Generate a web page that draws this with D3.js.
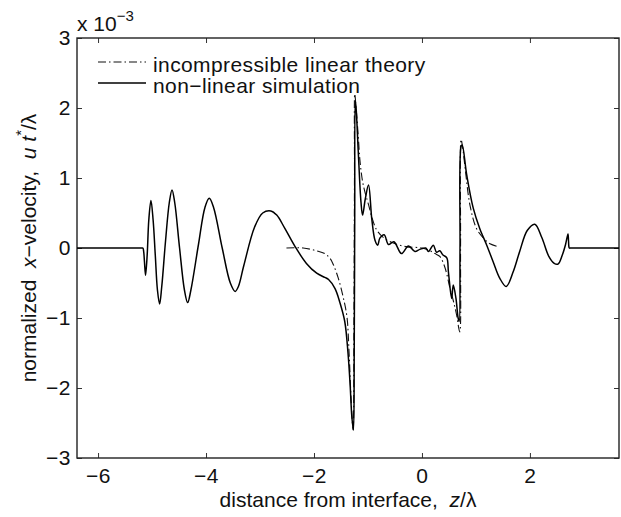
<!DOCTYPE html>
<html>
<head>
<meta charset="utf-8">
<script src="https://cdn.jsdelivr.net/npm/d3@7"></script>
<style>
  body { margin: 0; background: #fff; }
  svg text { font-family: "Liberation Sans", Arial, Helvetica, sans-serif; fill: #111; }
</style>
</head>
<body>
<div id="main"></div>
<script>

// non-linear simulation (x in units of z/lambda, y in units of 1e-3)
const simX = [-6.39, -5.5, -5.2, -5.17, -5.155, -5.14, -5.12, -5.09, -5.06, -5.02, -4.98, -4.94, -4.90, -4.86, -4.82, -4.75, -4.68, -4.63, -4.58,
  -4.49, -4.40, -4.34, -4.28, -4.14, -4.02, -3.94, -3.86, -3.70, -3.55, -3.46, -3.40, -3.30, -3.10, -2.95, -2.80, -2.69,
  -2.54, -2.35, -2.14, -1.95, -1.80, -1.73, -1.61, -1.52, -1.43, -1.37, -1.33, -1.30, -1.27, -1.255, -1.245, -1.235, -1.22,
  -1.18, -1.13, -1.10, -1.05, -0.99, -0.93, -0.87, -0.82, -0.78, -0.70, -0.62, -0.52, -0.38, -0.25, -0.13, -0.04, 0.07,
  0.12, 0.21, 0.27, 0.33, 0.39, 0.46, 0.49, 0.55, 0.58, 0.63, 0.67, 0.69, 0.705, 0.725, 0.745, 0.83, 0.95, 1.07, 1.20,
  1.32, 1.44, 1.56, 1.69, 1.81, 1.95, 2.09, 2.22, 2.35, 2.45, 2.52, 2.60, 2.66, 2.705, 2.715, 2.73, 2.76, 3.0, 3.65];
const simY = [0, 0, 0, 0, -0.05, -0.2, -0.39, -0.1, 0.4, 0.68, 0.4, -0.1, -0.6, -0.80, -0.55, 0.1, 0.65, 0.83, 0.65,
  0.0, -0.6, -0.78, -0.6, 0.05, 0.58, 0.71, 0.58, 0.0, -0.5, -0.62, -0.55, -0.25, 0.3, 0.5, 0.53, 0.47,
  0.28, 0.02, -0.22, -0.36, -0.42, -0.45, -0.58, -0.78, -1.05, -1.5, -1.96, -2.4, -2.6, -1.5, 0.5, 2.1, 2.0,
  1.38, 0.66, 0.47, 0.7, 0.9, 0.42, 0.11, 0.04, 0.14, 0.19, 0.05, 0.09, -0.08, 0.03, -0.05, -0.02, 0.0,
  -0.05, 0.04, -0.06, -0.04, -0.1, -0.14, -0.34, -0.72, -0.53, -0.72, -1.0, -1.05, 0.0, 1.45, 1.47, 1.04, 0.57, 0.28, 0.04,
  -0.2, -0.43, -0.55, -0.34, -0.05, 0.25, 0.34, 0.15, -0.12, -0.22, -0.23, -0.1, 0.05, 0.2, 0.1, 0, 0, 0, 0];

// incompressible linear theory
const linX = [-2.51, -2.20, -1.95, -1.80, -1.70, -1.64, -1.55, -1.46, -1.39, -1.35, -1.31, -1.275, -1.26, -1.25, -1.245,
  -1.22, -1.18, -1.15, -1.10, -1.05, -0.99, -0.92, -0.84, -0.70, -0.53, -0.30, 0.0, 0.15, 0.24, 0.33, 0.43, 0.52, 0.58,
  0.64, 0.70, 0.715, 0.725, 0.76, 0.80, 0.89, 1.01, 1.14, 1.26, 1.41];
const linY = [0, 0, -0.04, -0.08, -0.15, -0.24, -0.43, -0.70, -0.98, -1.5, -2.2, -2.6, -1.0, 1.0, 2.2,
  2.0, 1.6, 1.26, 0.95, 0.78, 0.62, 0.42, 0.26, 0.14, 0.07, 0.02, 0.0, -0.04, -0.08, -0.12, -0.29, -0.58, -0.75,
  -0.95, -1.2, 0, 1.55, 1.4, 1.14, 0.61, 0.28, 0.14, 0.06, 0.02];

const xTicks = [-6, -4, -2, 0, 2];
const yTicks = [-3, -2, -1, 0, 1, 2, 3];
const legendLabels = ['incompressible linear theory', 'non\u2212linear simulation'];

const w = 621, h = 517;
const mLeft = 77, mRight = 619, mTop = 38, mBottom = 458;

const svg = d3.select('#main').append('svg').attr('width', w).attr('height', h);

const x = d3.scaleLinear().domain([-6.39, 3.65]).range([mLeft, mRight]);
const y = d3.scaleLinear().domain([-3, 3]).range([mBottom, mTop]);

const fmt = d => d < 0 ? '\u2212' + Math.abs(d) : String(d);

// axes (ticks point inward, like matlab)
const gx = svg.append('g').attr('transform', `translate(0,${mBottom})`)
  .call(d3.axisBottom(x).tickValues(xTicks).tickFormat(fmt).tickSizeInner(-5).tickSizeOuter(0).tickPadding(10));
const gy = svg.append('g').attr('transform', `translate(${mLeft},0)`)
  .call(d3.axisLeft(y).tickValues(yTicks).tickFormat(fmt).tickSizeInner(-5).tickSizeOuter(0).tickPadding(6));
const gt = svg.append('g').attr('transform', `translate(0,${mTop})`)
  .call(d3.axisTop(x).tickValues(xTicks).tickFormat('').tickSizeInner(-5).tickSizeOuter(0));
const gr = svg.append('g').attr('transform', `translate(${mRight},0)`)
  .call(d3.axisRight(y).tickValues(yTicks).tickFormat('').tickSizeInner(-5).tickSizeOuter(0));

[gx, gy, gt, gr].forEach(g => {
  g.select('.domain').remove();
  g.selectAll('line').attr('stroke', '#333');
  g.selectAll('text').style('font-size', '21px').style('letter-spacing', '0.5px').attr('fill', '#111');
});

svg.append('rect').attr('x', mLeft).attr('y', mTop).attr('width', mRight - mLeft).attr('height', mBottom - mTop)
  .attr('fill', 'none').attr('stroke', '#222').attr('stroke-width', 1.4);

// lines
const line = d3.line().x(d => x(d[0])).y(d => y(d[1])).curve(d3.curveCatmullRom.alpha(0.5));

svg.append('path').datum(linX.map((v, i) => [v, linY[i]]))
  .attr('d', line).attr('fill', 'none').attr('stroke', '#111').attr('stroke-width', 1.1)
  .attr('stroke-dasharray', '8,3,1.5,3');

svg.append('path').datum(simX.map((v, i) => [v, simY[i]]))
  .attr('d', line).attr('fill', 'none').attr('stroke', '#000').attr('stroke-width', 1.5);

// exponent label
const ex = svg.append('text').attr('x', 77).attr('y', 31).style('font-size', '21px');
ex.append('tspan').text('x 10');
ex.append('tspan').attr('dy', -10).style('font-size', '15px').text('\u22123');

// legend
const leg = svg.append('g').attr('id', 'legend');
leg.append('line').attr('x1', 98).attr('x2', 146).attr('y1', 62).attr('y2', 62)
  .attr('stroke', '#111').attr('stroke-width', 1.1).attr('stroke-dasharray', '8,3,1.5,3');
leg.append('line').attr('x1', 98).attr('x2', 146).attr('y1', 83).attr('y2', 83)
  .attr('stroke', '#000').attr('stroke-width', 1.5);
leg.selectAll('text.lab').data(legendLabels).enter().append('text').attr('class', 'lab')
  .attr('x', 153).attr('y', (d, i) => 71.5 + i * 21).style('font-size', '21px')
  .style('letter-spacing', '0.4px').text(d => d);

// x title
const xt = svg.append('text').attr('x', (mLeft + mRight) / 2).attr('y', 507)
  .attr('text-anchor', 'middle').style('font-size', '21px');
xt.append('tspan').text('distance from interface,\u00a0\u00a0');
xt.append('tspan').style('font-style', 'italic').text('z');
xt.append('tspan').text('/\u03bb');

// y title
const yt = svg.append('text').attr('transform', `translate(36,${(mTop + mBottom) / 2}) rotate(-90)`)
  .attr('text-anchor', 'middle').style('font-size', '21px');
yt.append('tspan').text('normalized\u00a0\u00a0');
yt.append('tspan').style('font-style', 'italic').text('x');
yt.append('tspan').text('\u2212velocity,\u00a0\u00a0');
yt.append('tspan').style('font-style', 'italic').text('u t');
yt.append('tspan').attr('dy', -10).style('font-size', '15px').text('*');
yt.append('tspan').attr('dy', 10).text('/\u03bb');

</script>
</body>
</html>
